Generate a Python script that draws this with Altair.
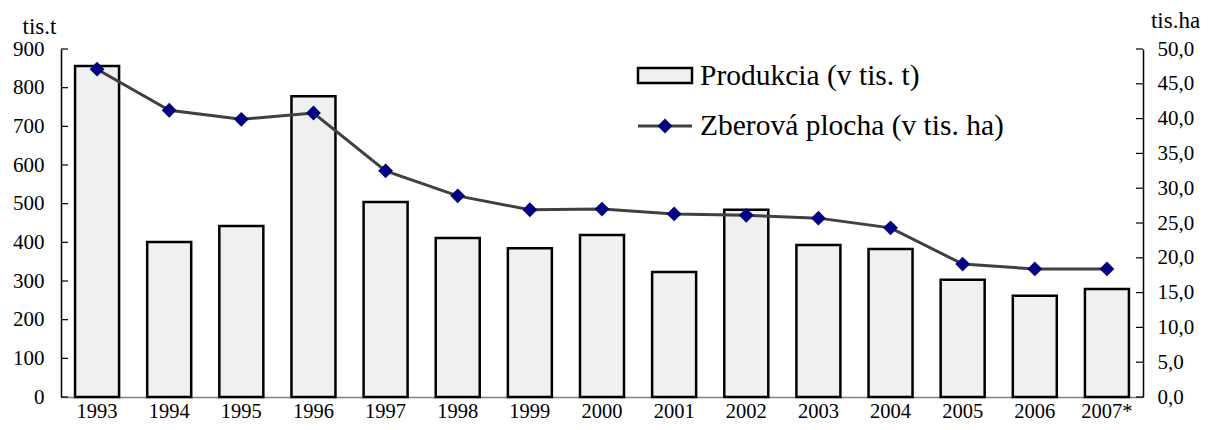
import altair as alt
import pandas as pd

years = ["1993", "1994", "1995", "1996", "1997", "1998", "1999", "2000",
         "2001", "2002", "2003", "2004", "2005", "2006", "2007*"]
produkcia = [856, 401, 442, 778, 504, 411, 385, 419, 323, 484, 393, 383, 303, 262, 279]
plocha = [47.1, 41.2, 39.9, 40.8, 32.5, 28.9, 26.9, 27.0, 26.3, 26.1, 25.7, 24.3, 19.1, 18.4, 18.4]
left_ticks = [0, 100, 200, 300, 400, 500, 600, 700, 800, 900]
right_ticks = [0, 5, 10, 15, 20, 25, 30, 35, 40, 45, 50]
legend_labels = ["Produkcia (v tis. t)", "Zberová plocha (v tis. ha)"]
left_title = "tis.t"
right_title = "tis.ha"

df = pd.DataFrame({"rok": years, "produkcia": produkcia, "plocha": plocha})
lt = pd.DataFrame({"v": left_ticks})
rt = pd.DataFrame({"v": right_ticks})
one = pd.DataFrame({"a": [0]})

W, H = 1082, 348
FONT = "Liberation Serif"
BAR_FILL = "#f0f0f0"

xenc = alt.X("rok:N", sort=years,
             scale=alt.Scale(paddingInner=0.39, paddingOuter=0.195),
             axis=alt.Axis(title=None, labelAngle=0, ticks=False, domainColor="#808080",
                           domainWidth=1.5, labelFontSize=20.5, labelPadding=4,
                           labelFont=FONT, labelColor="black"))

lscale = alt.Scale(domain=[0, 900], nice=False, zero=True)
rscale = alt.Scale(domain=[0, 50], nice=False, zero=True)

laxis = alt.Axis(values=left_ticks, ticks=False, domainColor="black", domainWidth=1.5,
                 labelFontSize=21, labelPadding=17, labelFont=FONT, labelColor="black",
                 title=left_title, titleAngle=0, titleFont=FONT, titleColor="black",
                 titleX=-22, titleY=-16, titleAlign="center", titleBaseline="alphabetic",
                 titleFontSize=23, titleFontWeight="normal")
raxis = alt.Axis(orient="right", values=right_ticks, ticks=False, domainColor="black",
                 domainWidth=1.5, labelFontSize=21, labelPadding=14, labelFont=FONT,
                 labelColor="black",
                 labelExpr="replace(format(datum.value, '.1f'), '.', ',')",
                 title=right_title, titleAngle=0, titleFont=FONT, titleColor="black",
                 titleX=32, titleY=-22, titleAlign="center", titleBaseline="alphabetic",
                 titleFontSize=23, titleFontWeight="normal")

bars = alt.Chart(df).mark_bar(fill=BAR_FILL, stroke="black", strokeWidth=2.5).encode(
    x=xenc, y=alt.Y("produkcia:Q", scale=lscale, axis=laxis))
lticks = alt.Chart(lt).mark_rule(color="black", strokeWidth=1.2).encode(
    y=alt.Y("v:Q", scale=lscale, axis=laxis), x=alt.value(0), x2=alt.value(7))

line = alt.Chart(df).mark_line(color="#404040", strokeWidth=3).encode(
    x=xenc, y=alt.Y("plocha:Q", scale=rscale, axis=raxis))
points = alt.Chart(df).mark_point(shape="diamond", filled=True, size=220, color="#000080",
                                  opacity=1).encode(
    x=xenc, y=alt.Y("plocha:Q", scale=rscale, axis=raxis))
rticks = alt.Chart(rt).mark_rule(color="black", strokeWidth=1.2).encode(
    y=alt.Y("v:Q", scale=rscale, axis=raxis), x=alt.value(W - 7), x2=alt.value(W))

leg_box = alt.Chart(one).mark_rect(fill=BAR_FILL, stroke="black", strokeWidth=2.5).encode(
    x=alt.value(577), x2=alt.value(631), y=alt.value(19), y2=alt.value(34))
leg_line = alt.Chart(one).mark_rule(color="#404040", strokeWidth=3).encode(
    x=alt.value(577), x2=alt.value(631), y=alt.value(77))
leg_pt = alt.Chart(one).mark_point(shape="diamond", filled=True, size=220, color="#000080",
                                   opacity=1).encode(x=alt.value(604), y=alt.value(77))
leg_t1 = alt.Chart(one).mark_text(align="left", baseline="alphabetic", fontSize=29.5,
                                  font=FONT, color="black").encode(
    x=alt.value(639), y=alt.value(36), text=alt.value(legend_labels[0]))
leg_t2 = alt.Chart(one).mark_text(align="left", baseline="alphabetic", fontSize=29.5,
                                  font=FONT, color="black").encode(
    x=alt.value(639), y=alt.value(86), text=alt.value(legend_labels[1]))

left = alt.layer(bars, lticks)
right = alt.layer(line, points, rticks)

chart = alt.layer(left, right, leg_box, leg_line, leg_pt, leg_t1, leg_t2).resolve_scale(
    y="independent"
).properties(
    width=W, height=H, autosize="none",
    padding={"left": 53, "top": 41, "right": 57, "bottom": 25},
).configure_view(stroke=None).configure_axis(grid=False)

chart.save("out.html", embed_options={"renderer": "svg", "actions": False})
